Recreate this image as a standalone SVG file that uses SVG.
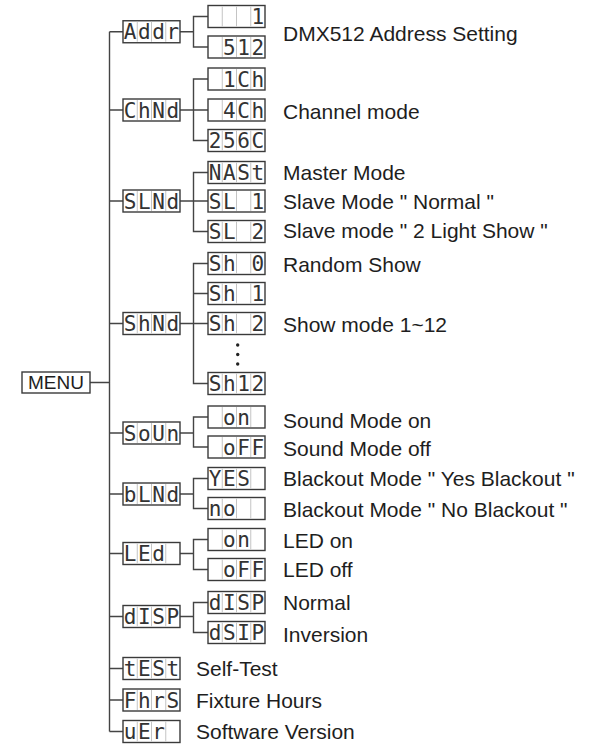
<svg xmlns="http://www.w3.org/2000/svg" xmlns:xlink="http://www.w3.org/1999/xlink" width="598" height="744" viewBox="0 0 598 744">
<style>
.bg{fill:#ffffff}
.box{fill:#ffffff;stroke:#3a3a3a;stroke-width:1.4}
.dv{stroke:#c4c4c4;stroke-width:1}
.seg{font-family:"DejaVu Sans Mono","Liberation Mono",monospace;font-size:21px;fill:#333333;text-anchor:middle}
.lbl{font-family:"Liberation Sans",Arial,sans-serif;font-size:21px;fill:#1e1e1e}
.menu{font-family:"Liberation Sans",Arial,sans-serif;font-size:19px;fill:#1e1e1e;text-anchor:middle}
.conn{fill:none;stroke:#444444;stroke-width:1.4}
.dot{fill:#222222}
</style>
<defs>
<g id="cells">
<rect class="box" x="0" y="0" width="57" height="22"/>
<line class="dv" x1="14.25" y1="1" x2="14.25" y2="21"/>
<line class="dv" x1="28.5" y1="1" x2="28.5" y2="21"/>
<line class="dv" x1="42.75" y1="1" x2="42.75" y2="21"/>
</g>
</defs>
<rect class="bg" x="0" y="0" width="598" height="744"/>

<g id="connectors">
<path class="conn" d="M90 382.5 H109.5 M109.5 31.75 V731.5 M109.5 31.75 H123 M109.5 110 H123 M109.5 201 H123 M109.5 323.5 H123 M109.5 433 H123 M109.5 494 H123 M109.5 553.5 H123 M109.5 616.5 H123 M109.5 668.5 H123 M109.5 700 H123 M109.5 731.5 H123"/>
<path class="conn" d="M208 16.5 H193.5 V47 H208 M180 31.75 H193.5"/>
<path class="conn" d="M208 79 H193.5 V140.5 H208 M193.5 110 H208 M180 110 H193.5"/>
<path class="conn" d="M208 172.5 H193.5 V231.5 H208 M193.5 201 H208 M180 201 H193.5"/>
<path class="conn" d="M208 263.5 H193.5 V383.5 H208 M193.5 293.5 H208 M193.5 323.5 H208 M180 323.5 H193.5"/>
<path class="conn" d="M208 417 H193.5 V447 H208 M180 433 H193.5"/>
<path class="conn" d="M208 478.5 H193.5 V508.5 H208 M180 494 H193.5"/>
<path class="conn" d="M208 539.5 H193.5 V569.5 H208 M180 553.5 H193.5"/>
<path class="conn" d="M208 602.5 H193.5 V632.5 H208 M180 616.5 H193.5"/>
</g>

<g id="menu">
<rect class="box" x="22" y="372" width="68" height="21"/>
<text class="menu" x="56" y="389.3">MENU</text>
</g>

<!-- main nodes -->
<g id="addr"><use xlink:href="#cells" x="123" y="20.75"/><text class="seg" x="130.1 144.4 158.6 172.9" y="39.4">Addr</text></g>
<g id="chnd"><use xlink:href="#cells" x="123" y="99"/><text class="seg" x="130.1 144.4 158.6 172.9" y="117.6">ChNd</text></g>
<g id="slnd"><use xlink:href="#cells" x="123" y="190"/><text class="seg" x="130.1 144.4 158.6 172.9" y="208.6">SLNd</text></g>
<g id="shnd"><use xlink:href="#cells" x="123" y="312.5"/><text class="seg" x="130.1 144.4 158.6 172.9" y="331.1">ShNd</text></g>
<g id="soun"><use xlink:href="#cells" x="123" y="422"/><text class="seg" x="130.1 144.4 158.6 172.9" y="440.6">SoUn</text></g>
<g id="blnd"><use xlink:href="#cells" x="123" y="483"/><text class="seg" x="130.1 144.4 158.6 172.9" y="501.6">bLNd</text></g>
<g id="led"><use xlink:href="#cells" x="123" y="542.5"/><text class="seg" x="130.1 144.4 158.6" y="561.1">LEd</text></g>
<g id="disp"><use xlink:href="#cells" x="123" y="605.5"/><text class="seg" x="130.1 144.4 158.6 172.9" y="624.1">dISP</text></g>
<g id="test"><use xlink:href="#cells" x="123" y="657.5"/><text class="seg" x="130.1 144.4 158.6 172.9" y="676.1">tESt</text></g>
<g id="fhrs"><use xlink:href="#cells" x="123" y="689"/><text class="seg" x="130.1 144.4 158.6 172.9" y="707.6">FhrS</text></g>
<g id="uer"><use xlink:href="#cells" x="123" y="720.5"/><text class="seg" x="130.1 144.4 158.6" y="739.1">uEr</text></g>

<!-- sub nodes -->
<g id="addr-1"><use xlink:href="#cells" x="208" y="5.5"/><text class="seg" x="257.9" y="24.1">1</text></g>
<g id="addr-512"><use xlink:href="#cells" x="208" y="36"/><text class="seg" x="229.4 243.6 257.9" y="54.6">512</text></g>
<g id="ch-1"><use xlink:href="#cells" x="208" y="68"/><text class="seg" x="229.4 243.6 257.9" y="86.6">1Ch</text></g>
<g id="ch-4"><use xlink:href="#cells" x="208" y="99"/><text class="seg" x="229.4 243.6 257.9" y="117.6">4Ch</text></g>
<g id="ch-256"><use xlink:href="#cells" x="208" y="129.5"/><text class="seg" x="215.1 229.4 243.6 257.9" y="148.1">256C</text></g>
<g id="sl-mast"><use xlink:href="#cells" x="208" y="161.5"/><text class="seg" x="215.1 229.4 243.6 257.9" y="180.1">NASt</text></g>
<g id="sl-1"><use xlink:href="#cells" x="208" y="190"/><text class="seg" x="215.1 229.4 257.9" y="208.6">SL1</text></g>
<g id="sl-2"><use xlink:href="#cells" x="208" y="220.5"/><text class="seg" x="215.1 229.4 257.9" y="239.1">SL2</text></g>
<g id="sh-0"><use xlink:href="#cells" x="208" y="252.5"/><text class="seg" x="215.1 229.4 257.9" y="271.1">Sh0</text></g>
<g id="sh-1"><use xlink:href="#cells" x="208" y="282.5"/><text class="seg" x="215.1 229.4 257.9" y="301.1">Sh1</text></g>
<g id="sh-2"><use xlink:href="#cells" x="208" y="312.5"/><text class="seg" x="215.1 229.4 257.9" y="331.1">Sh2</text></g>
<g id="sh-dots"><circle class="dot" cx="237.7" cy="345" r="1.7"/><circle class="dot" cx="237.7" cy="354.5" r="1.7"/><circle class="dot" cx="237.7" cy="364" r="1.7"/></g>
<g id="sh-12"><use xlink:href="#cells" x="208" y="372.5"/><text class="seg" x="215.1 229.4 243.6 257.9" y="391.1">Sh12</text></g>
<g id="snd-on"><use xlink:href="#cells" x="208" y="406"/><text class="seg" x="229.4 243.6" y="424.6">on</text></g>
<g id="snd-off"><use xlink:href="#cells" x="208" y="436"/><text class="seg" x="229.4 243.6 257.9" y="454.6">oFF</text></g>
<g id="bl-yes"><use xlink:href="#cells" x="208" y="467.5"/><text class="seg" x="215.1 229.4 243.6" y="486.1">YES</text></g>
<g id="bl-no"><use xlink:href="#cells" x="208" y="497.5"/><text class="seg" x="215.1 229.4" y="516.1">no</text></g>
<g id="led-on"><use xlink:href="#cells" x="208" y="528.5"/><text class="seg" x="229.4 243.6" y="547.1">on</text></g>
<g id="led-off"><use xlink:href="#cells" x="208" y="558.5"/><text class="seg" x="229.4 243.6 257.9" y="577.1">oFF</text></g>
<g id="disp-n"><use xlink:href="#cells" x="208" y="591.5"/><text class="seg" x="215.1 229.4 243.6 257.9" y="610.1">dISP</text></g>
<g id="disp-i"><use xlink:href="#cells" x="208" y="621.5"/><text class="seg" x="215.1 229.4 243.6 257.9" y="640.1">dSIP</text></g>

<!-- labels -->
<g id="labels">
<text class="lbl" x="283" y="40.5">DMX512 Address Setting</text>
<text class="lbl" x="283" y="119">Channel mode</text>
<text class="lbl" x="283" y="179.5">Master Mode</text>
<text class="lbl" x="283" y="209">Slave Mode " Normal "</text>
<text class="lbl" x="283" y="237.5">Slave mode " 2 Light Show "</text>
<text class="lbl" x="283" y="271.5">Random Show</text>
<text class="lbl" x="283" y="331.5">Show mode 1~12</text>
<text class="lbl" x="283" y="428">Sound Mode on</text>
<text class="lbl" x="283" y="455.5">Sound Mode off</text>
<text class="lbl" x="283" y="485.5">Blackout Mode " Yes Blackout "</text>
<text class="lbl" x="283" y="516.5">Blackout Mode " No Blackout "</text>
<text class="lbl" x="283" y="548">LED on</text>
<text class="lbl" x="283" y="576.5">LED off</text>
<text class="lbl" x="283" y="610">Normal</text>
<text class="lbl" x="283" y="641.5">Inversion</text>
<text class="lbl" x="196" y="675.5">Self-Test</text>
<text class="lbl" x="196" y="707.5">Fixture Hours</text>
<text class="lbl" x="196" y="739">Software Version</text>
</g>
</svg>
